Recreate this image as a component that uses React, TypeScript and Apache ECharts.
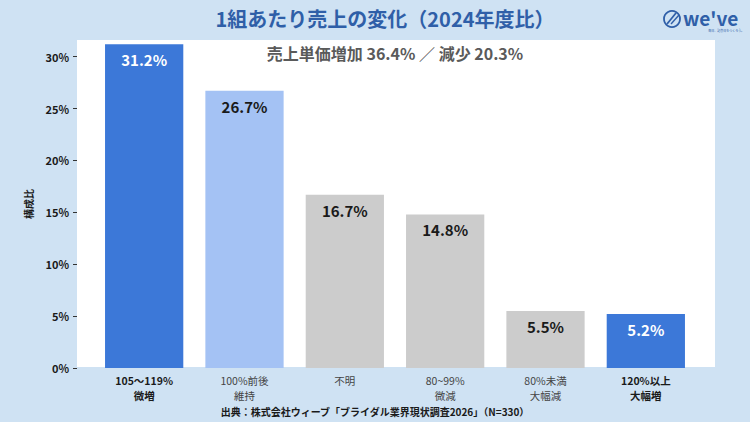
import React, { useEffect, useRef } from "react";
import * as echarts from "echarts";

const categories = ["105〜119%\n微増", "100%前後\n維持", "不明", "80~99%\n微減", "80%未満\n大幅減", "120%以上\n大幅増"];
const boldCategories = [true, false, false, false, false, true];
const values = [31.2, 26.7, 16.7, 14.8, 5.5, 5.2];
const barColors = ["#3c78d8", "#a4c2f4", "#cccccc", "#cccccc", "#cccccc", "#3c78d8"];
const labelColors = ["#ffffff", "#1a1a1a", "#1a1a1a", "#1a1a1a", "#1a1a1a", "#ffffff"];
const yTicks = [0, 5, 10, 15, 20, 25, 30];

const FONT = "'Noto Sans CJK JP', 'Noto Sans', sans-serif";

export default function App() {
  const ref = useRef<HTMLDivElement>(null);
  useEffect(() => {
    if (!ref.current) return;
    const chart = echarts.init(ref.current, undefined, { renderer: "svg" });
    chart.setOption({
      animation: false,
      backgroundColor: "#cfe2f3",
      textStyle: { fontFamily: FONT },
      graphic: [
        { type: "rect", z: -10, shape: { x: 77, y: 40, width: 638, height: 327 }, style: { fill: "#ffffff" } },
        {
          type: "text", x: 385, y: 18,
          style: { text: "1組あたり売上の変化（2024年度比）", fill: "#2f5fa8", font: `bold 20px ${FONT}`, align: "center", verticalAlign: "middle" },
        },
        {
          type: "text", x: 395, y: 53,
          style: { text: "売上単価増加 36.4% ／ 減少 20.3%", fill: "#5a5a5a", font: `bold 16px ${FONT}`, align: "center", verticalAlign: "middle" },
        },
        { type: "circle", shape: { cx: 672, cy: 19, r: 8 }, style: { fill: "none", stroke: "#2f5fa8", lineWidth: 1.8 } },
        { type: "line", shape: { x1: 667, y1: 24, x2: 676, y2: 13 }, style: { stroke: "#2f5fa8", lineWidth: 1.8 } },
        { type: "line", shape: { x1: 671, y1: 24, x2: 679, y2: 15 }, style: { stroke: "#2f5fa8", lineWidth: 1.4 } },
        {
          type: "text", x: 683, y: 17,
          style: { text: "we've", fill: "#2f5fa8", font: `bold 19px ${FONT}`, verticalAlign: "middle" },
        },
        {
          type: "text", x: 744, y: 31,
          style: { text: "毎日、記念日をつくろう。", fill: "#2f5fa8", font: `3px ${FONT}`, align: "right", verticalAlign: "middle" },
        },
        {
          type: "text", x: 375, y: 411,
          style: { text: "出典：株式会社ウィーブ「ブライダル業界現状調査2026」（N=330）", fill: "#1a1a1a", font: `bold 10px ${FONT}`, align: "center", verticalAlign: "middle" },
        },
      ],
      grid: { left: 94, right: 54, top: 40, bottom: 54 },
      xAxis: {
        type: "category",
        data: categories.map((c, i) => ({
          value: c,
          textStyle: { fontWeight: boldCategories[i] ? "bold" : "normal", color: boldCategories[i] ? "#1a1a1a" : "#444444" },
        })),
        axisLine: { show: false },
        axisTick: { show: false },
        axisLabel: { fontSize: 10.5, lineHeight: 15, margin: 5, fontFamily: FONT, interval: 0 },
      },
      yAxis: {
        type: "value",
        min: 0,
        max: 31.6,
        interval: 5,
        offset: 17,
        name: "構成比",
        nameLocation: "middle",
        nameRotate: 90,
        nameGap: 44,
        nameTextStyle: { fontSize: 10, fontWeight: "bold", color: "#1a1a1a", fontFamily: FONT },
        splitLine: { show: false },
        axisLine: { show: false },
        axisTick: { show: true, length: 4, lineStyle: { color: "#333" }, customValues: yTicks },
        axisLabel: {
          customValues: yTicks,
          formatter: (v: number) => `${v}%`,
          fontSize: 11, fontWeight: "bold", color: "#1a1a1a", margin: 8, fontFamily: FONT,
        },
      },
      series: [
        {
          type: "bar",
          z: 2,
          barWidth: "78%",
          data: values.map((v, i) => ({
            value: v,
            itemStyle: { color: barColors[i] },
            label: { color: labelColors[i] },
          })),
          label: {
            show: true,
            position: "insideTop",
            distance: 8,
            formatter: (p: any) => `${p.value.toFixed(1)}%`,
            fontSize: 15,
            fontWeight: "bold",
            fontFamily: FONT,
          },
        },
      ],
    });
    return () => chart.dispose();
  }, []);
  return <div ref={ref} style={{ width: 750, height: 422, position: "absolute", left: 0, top: 0 }} />;
}
